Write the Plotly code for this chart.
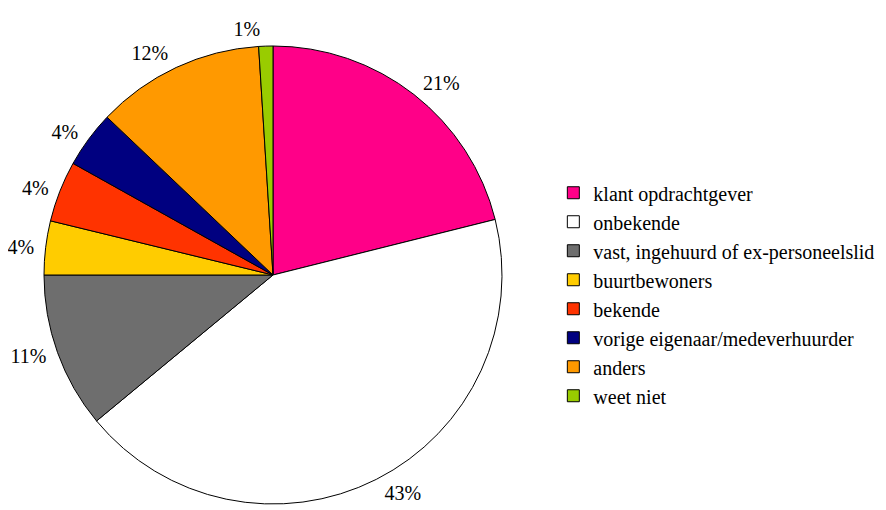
import plotly.graph_objects as go

labels = ["klant opdrachtgever", "onbekende", "vast, ingehuurd of ex-personeelslid",
          "buurtbewoners", "bekende", "vorige eigenaar/medeverhuurder", "anders", "weet niet"]
values = [21.1, 42.9, 11.0, 3.8, 4.3, 4.0, 11.9, 1.0]
colors = ["#FF0088", "#FFFFFF", "#6E6E6E", "#FFCC00", "#FF3300", "#000080", "#FF9900", "#99CC00"]

W, H = 886, 510
cx, cy, r = 265, 267, 229   # pie centre/radius in figure pixels
rl = 235                    # radius of invisible ring that carries the labels

def dom(rad):
    return dict(x=[(cx - rad) / W, (cx + rad) / W], y=[(H - cy - rad) / H, (H - cy + rad) / H])

FONT = "Times New Roman, Liberation Serif, serif"

fig = go.Figure()
fig.add_trace(go.Pie(
    labels=labels, values=values, sort=False, direction="clockwise", rotation=0,
    marker=dict(colors=colors, line=dict(color="black", width=1)),
    textinfo="none", domain=dom(r), automargin=False,
))
fig.add_trace(go.Pie(
    labels=labels, values=values, sort=False, direction="clockwise", rotation=0,
    marker=dict(colors=["rgba(0,0,0,0)"] * len(labels), line=dict(width=0)),
    textposition="outside", texttemplate="%{percent:.0%}",
    textfont=dict(family=FONT, size=20, color="black"),
    domain=dom(rl), automargin=False, showlegend=False, hoverinfo="skip",
))
fig.update_layout(
    width=W, height=H, margin=dict(l=0, r=0, t=0, b=0),
    paper_bgcolor="white", plot_bgcolor="white",
    font=dict(family=FONT, size=20, color="black"),
    legend=dict(x=0.6155, y=0.676, xanchor="left", yanchor="top",
                font=dict(family=FONT, size=20, color="black")),
)
fig.write_html("out.html")
